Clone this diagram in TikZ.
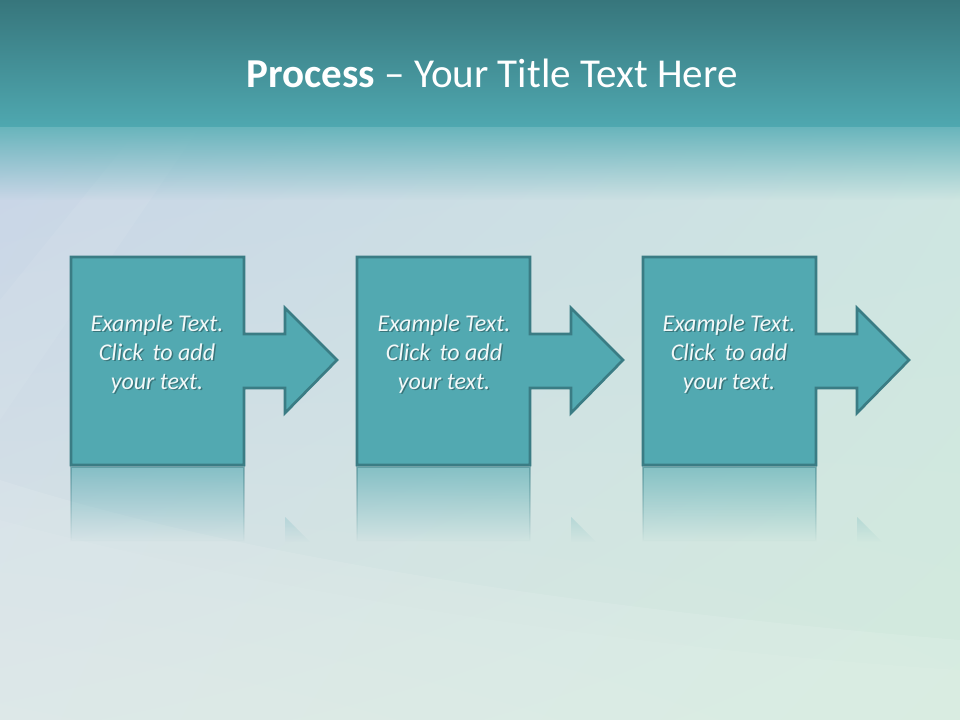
\documentclass[tikz,border=0pt]{standalone}
\usepackage{fontspec}
\setmainfont{Carlito}
\usetikzlibrary{fadings,shadings}
\definecolor{hdrTop}{HTML}{37767C}
\definecolor{hdrBot}{HTML}{4FA8B0}
\definecolor{bgUL}{HTML}{C7D4E7}
\definecolor{bgUR}{HTML}{CDE5E2}
\definecolor{bgLL}{HTML}{D9E5E5}
\definecolor{bgLR}{HTML}{D3EADD}
\definecolor{boxFill}{HTML}{52A9B1}
\definecolor{boxLine}{HTML}{3A7C84}
\definecolor{txtCol}{HTML}{F2F8F8}
\tikzset{
  procshape/.style={fill=boxFill, draw=boxLine, line width=2pt, line join=miter},
  reflbox/.style={fill=boxFill, draw=boxLine, line width=1.2pt, fill opacity=0.6, draw opacity=0.45, path fading=south},
  boxtext/.style={align=center, text=txtCol, font=\itshape\fontsize{18}{21.8}\selectfont, inner sep=0pt},
  boxshadow/.style={align=center, text=black, text opacity=0.3, font=\itshape\fontsize{18}{21.8}\selectfont, inner sep=0pt},
}
\begin{document}
\begin{tikzpicture}[x=0.75pt,y=-0.75pt]
\useasboundingbox (0,0) rectangle (960,720);
% background
\shade[upper left=bgUL, upper right=bgUR, lower left=bgLL, lower right=bgLR] (0,127) rectangle (960,720);
% soft swooshes
\fill[white, opacity=0.10] (0,480) .. controls (250,560) and (600,610) .. (960,640) -- (960,720) -- (0,720) -- cycle;
\fill[white, opacity=0.05] (0,520) .. controls (300,600) and (650,650) .. (960,670) -- (960,720) -- (0,720) -- cycle;
\fill[white, opacity=0.06] (0,300) -- (140,127) -- (200,127) -- (0,420) -- cycle;
% header band
\shade[top color=hdrTop, bottom color=hdrBot] (0,0) rectangle (960,127);
\fill[hdrBot!85!white, path fading=south] (0,127) rectangle (960,200);
\node[anchor=base, text=white, font=\fontsize{30.8}{37}\selectfont, inner sep=0pt] (title) at (492,88) {\textbf{Process} – Your Title Text Here};
% shapes and reflections
\foreach \dx/\n in {0/1,286/2,572/3}{
  \path[reflbox] (71+\dx,467) rectangle (244+\dx,541);
  \path[fill=boxFill, fill opacity=0.22, path fading=south] (285+\dx,517) -- (310+\dx,542) -- (285+\dx,542) -- cycle;
  \path[procshape] (71+\dx,257) -- (244+\dx,257) -- (244+\dx,334) -- (285+\dx,334) -- (285+\dx,308)
     -- (337+\dx,360) -- (285+\dx,413) -- (285+\dx,388) -- (244+\dx,388) -- (244+\dx,465) -- (71+\dx,465) -- cycle;
}
\node[boxshadow] (s1) at (158.5,355.5) {Example Text.\\Click\hspace{3pt} to add\\your text.};
\node[boxtext] (t1) at (157,354) {Example Text.\\Click\hspace{3pt} to add\\your text.};
\node[boxshadow] (s2) at (445.5,355.5) {Example Text.\\Click\hspace{3pt} to add\\your text.};
\node[boxtext] (t2) at (444,354) {Example Text.\\Click\hspace{3pt} to add\\your text.};
\node[boxshadow] (s3) at (730.5,355.5) {Example Text.\\Click\hspace{3pt} to add\\your text.};
\node[boxtext] (t3) at (729,354) {Example Text.\\Click\hspace{3pt} to add\\your text.};
\end{tikzpicture}
\end{document}
